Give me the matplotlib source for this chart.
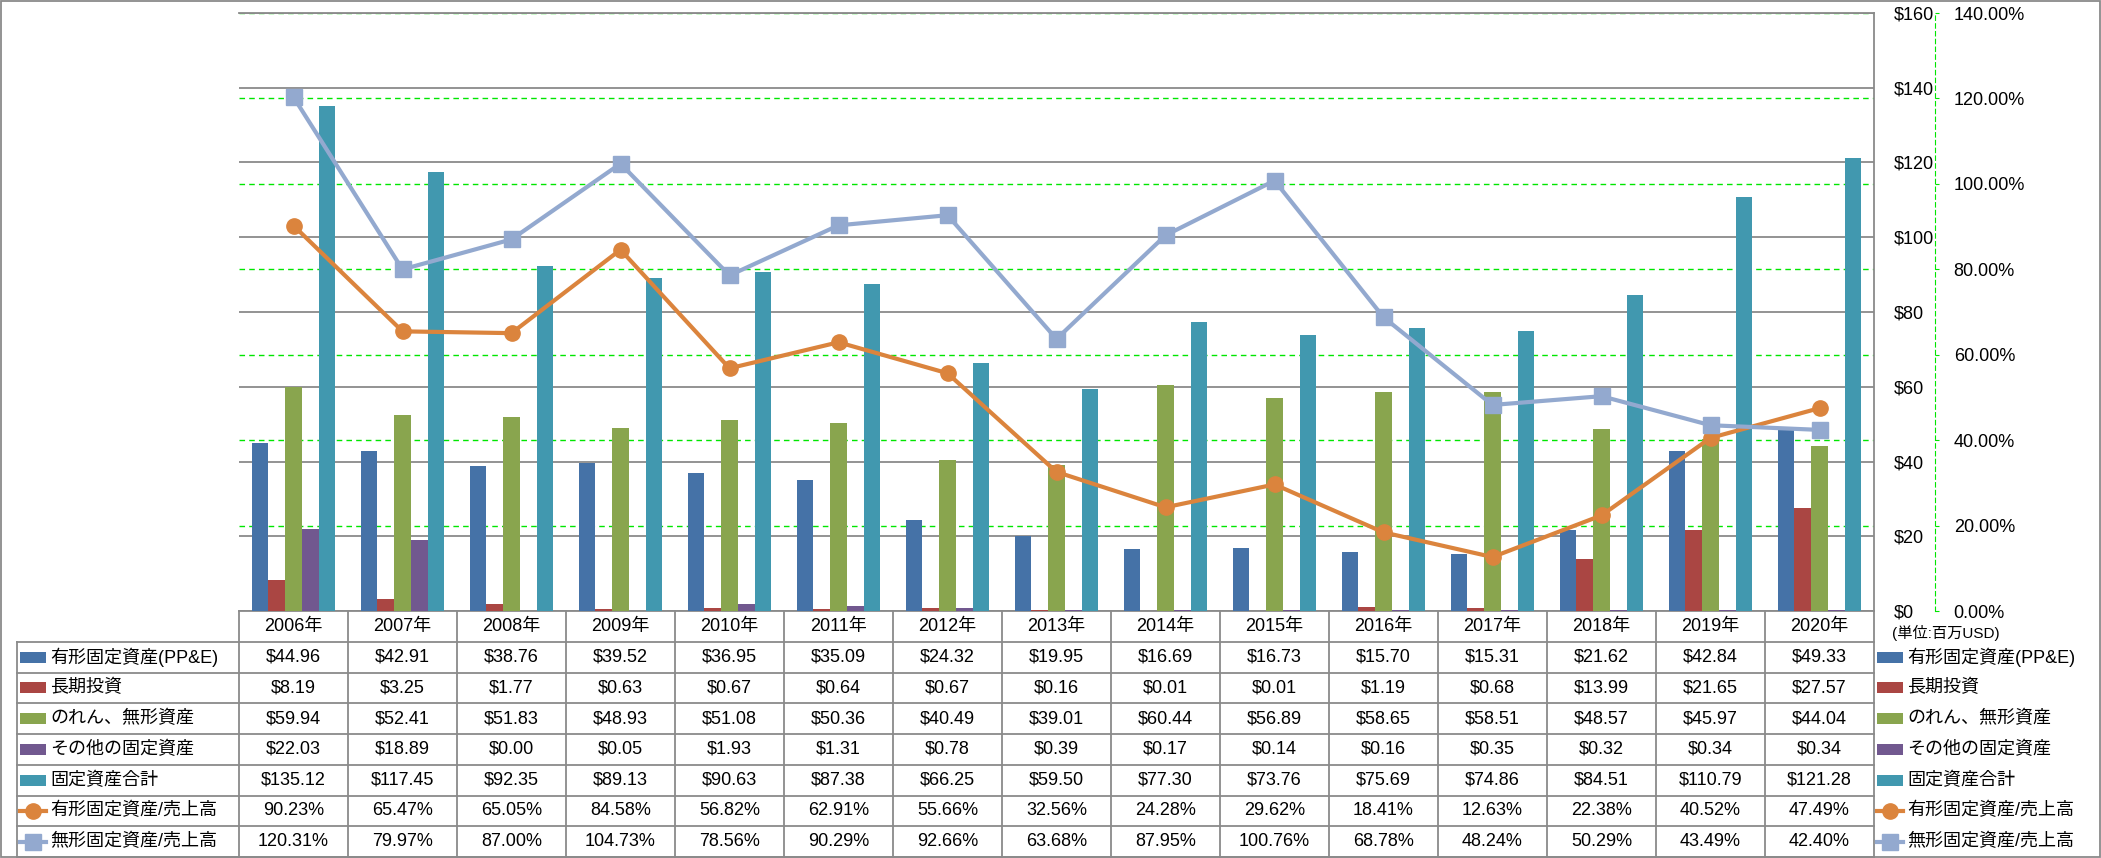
import matplotlib
matplotlib.use("Agg")
import matplotlib.pyplot as plt
from matplotlib.patches import Rectangle
from matplotlib.ticker import FuncFormatter

plt.rcParams['font.family'] = ['Liberation Sans', 'Noto Sans CJK JP']

# data (unit: million USD / %)
years = [2006, 2007, 2008, 2009, 2010, 2011, 2012, 2013, 2014, 2015, 2016, 2017, 2018, 2019, 2020]
ppe = [44.96, 42.91, 38.76, 39.52, 36.95, 35.09, 24.32, 19.95, 16.69, 16.73, 15.70, 15.31, 21.62, 42.84, 49.33]
long_inv = [8.19, 3.25, 1.77, 0.63, 0.67, 0.64, 0.67, 0.16, 0.01, 0.01, 1.19, 0.68, 13.99, 21.65, 27.57]
goodwill = [59.94, 52.41, 51.83, 48.93, 51.08, 50.36, 40.49, 39.01, 60.44, 56.89, 58.65, 58.51, 48.57, 45.97, 44.04]
other_fixed = [22.03, 18.89, 0.00, 0.05, 1.93, 1.31, 0.78, 0.39, 0.17, 0.14, 0.16, 0.35, 0.32, 0.34, 0.34]
total_fixed = [135.12, 117.45, 92.35, 89.13, 90.63, 87.38, 66.25, 59.50, 77.30, 73.76, 75.69, 74.86, 84.51, 110.79, 121.28]
ppe_ratio = [90.23, 65.47, 65.05, 84.58, 56.82, 62.91, 55.66, 32.56, 24.28, 29.62, 18.41, 12.63, 22.38, 40.52, 47.49]
intang_ratio = [120.31, 79.97, 87.00, 104.73, 78.56, 90.29, 92.66, 63.68, 87.95, 100.76, 68.78, 48.24, 50.29, 43.49, 42.40]

bar_series = [
    ("有形固定資産(PP&E)", ppe, "#4572A7"),
    ("長期投資", long_inv, "#AA4643"),
    ("のれん、無形資産", goodwill, "#89A54E"),
    ("その他の固定資産", other_fixed, "#71588F"),
    ("固定資産合計", total_fixed, "#4198AF"),
]
line_series = [
    ("有形固定資産/売上高", ppe_ratio, "#DB843D", "o", 11),
    ("無形固定資産/売上高", intang_ratio, "#93A9CF", "s", 12),
]

W, H = 2101, 858
X0, X1 = 239, 1874        # plot area left / right (px)
Y_TOP, Y_BOT = 13, 611    # plot area top / bottom (px)
ROW_H = 30.75
LABEL_X = 17
GRID_GRAY = "#8a8a8a"
GREEN = "#00e600"
FS = 13

n = len(years)
CW = (X1 - X0) / n
x = list(range(n))


def rect(x0, y0, x1, y1):
    return [x0 / W, 1 - y1 / H, (x1 - x0) / W, (y1 - y0) / H]


fig = plt.figure(figsize=(W / 100, H / 100), dpi=100)

# green % grid behind the bars
axg = fig.add_axes(rect(X0, Y_TOP, X1, Y_BOT))
axg.set_xlim(-0.5, n - 0.5)
axg.set_ylim(0, 140)
axg.set_yticks(range(0, 141, 20))
axg.yaxis.grid(True, color=GREEN, ls=(0, (4, 3)), lw=1)
axg.tick_params(left=False, labelleft=False, bottom=False, labelbottom=False)
for s in axg.spines.values():
    s.set_visible(False)

# bars ($ axis)
ax = fig.add_axes(rect(X0, Y_TOP, X1, Y_BOT))
ax.patch.set_alpha(0)
bw = 0.154
for i, (name, vals, col) in enumerate(bar_series):
    ax.bar([k + (i - 2) * bw for k in x], vals, width=bw, color=col, zorder=3)
ax.set_xlim(-0.5, n - 0.5)
ax.set_ylim(0, 160)
ax.set_yticks(range(0, 161, 20))
ax.yaxis.set_major_formatter(FuncFormatter(lambda v, p: f"${v:.0f}"))
ax.tick_params(axis='x', bottom=False, labelbottom=False)
ax.yaxis.grid(True, color=GRID_GRAY, lw=1.3)
ax.set_axisbelow(True)
ax.spines['left'].set_visible(False)
for side in ['top', 'right', 'bottom']:
    ax.spines[side].set_color(GRID_GRAY)
    ax.spines[side].set_linewidth(1.3)

# ratio lines (% axis)
ax2 = ax.twinx()
for name, vals, col, mk, ms in line_series:
    ax2.plot(x, vals, color=col, lw=3, marker=mk, ms=ms, zorder=4)
ax2.set_ylim(0, 140)
ax2.set_yticks(range(0, 141, 20))
ax2.yaxis.set_major_formatter(FuncFormatter(lambda v, p: f"{v:.2f}%"))
ax2.spines['right'].set_position(('axes', (1935 - X0) / (X1 - X0)))
ax2.spines['right'].set_color(GREEN)
ax2.spines['right'].set_linestyle((0, (4, 3)))
for side in ['left', 'top', 'bottom']:
    ax2.spines[side].set_visible(False)
ax2.tick_params(axis='y', direction='out', length=3, color=GREEN, pad=10.5, labelsize=FS)

# twinx moves the $ ticks to the left, put them back on the right
ax.yaxis.tick_right()
ax.tick_params(axis='y', length=0, pad=14, labelsize=FS)

# data table underneath
tab = fig.add_axes([0, 0, 1, 1])
tab.set_xlim(0, W)
tab.set_ylim(H, 0)
tab.axis('off')

row_edges = [Y_BOT + i * ROW_H for i in range(9)]
for k in range(n + 1):
    xx = X0 + k * CW
    tab.plot([xx, xx], [Y_BOT, row_edges[-1]], color=GRID_GRAY, lw=1.3)
tab.plot([LABEL_X, LABEL_X], [row_edges[1], row_edges[-1]], color=GRID_GRAY, lw=1.3)
for yy in row_edges[1:]:
    tab.plot([LABEL_X, X1], [yy, yy], color=GRID_GRAY, lw=1.3)

for k, yr in enumerate(years):
    tab.text(X0 + (k + 0.5) * CW, (row_edges[0] + row_edges[1]) / 2, f"{yr}年",
             ha='center', va='center', fontsize=FS)

rows = [(name, vals, col, None, 0, "$") for name, vals, col in bar_series] + \
       [(name, vals, col, mk, ms, "%") for name, vals, col, mk, ms in line_series]


def draw_key(x0, yc, col, mk, ms):
    if mk is None:
        tab.add_patch(Rectangle((x0, yc - 5.5), 26, 11, color=col, lw=0))
    else:
        tab.plot([x0, x0 + 26], [yc, yc], color=col, lw=3)
        tab.plot([x0 + 13], [yc], marker=mk, ms=ms, color=col)


for r, (name, vals, col, mk, ms, unit) in enumerate(rows):
    yc = (row_edges[r + 1] + row_edges[r + 2]) / 2
    draw_key(20, yc, col, mk, ms)
    tab.text(50, yc, name, ha='left', va='center', fontsize=FS)
    draw_key(1877, yc, col, mk, ms)
    tab.text(1907, yc, name, ha='left', va='center', fontsize=FS)
    for k, v in enumerate(vals):
        s = f"${v:.2f}" if unit == "$" else f"{v:.2f}%"
        tab.text(X0 + (k + 0.5) * CW, yc, s, ha='center', va='center', fontsize=FS)

tab.text(1892, 633, "(単位:百万USD)", ha='left', va='center', fontsize=11)

# outer frame
tab.add_patch(Rectangle((1, 1), W - 2.5, H - 2, fill=False, edgecolor=GRID_GRAY, lw=1.3))

fig.savefig("out.png", dpi=100)
